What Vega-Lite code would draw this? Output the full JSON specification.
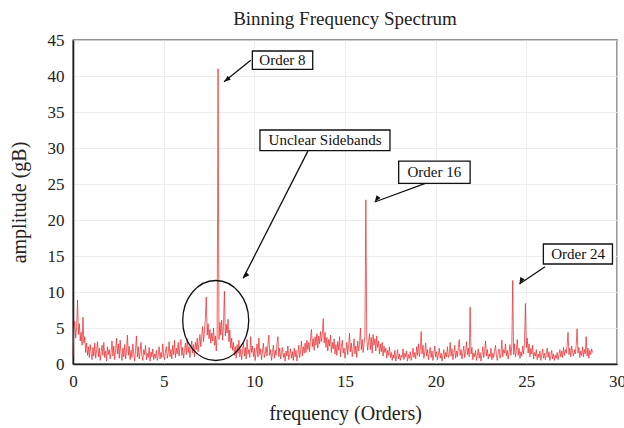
{
"$schema": "https://vega.github.io/schema/vega-lite/v6.json",
"width": 544, "height": 324,
"autosize": "none",
"padding": {"left": 73, "top": 40, "right": 7, "bottom": 64},
"background": "white",
"title": {"text": "Binning Frequency Spectrum", "font": "Liberation Serif", "fontSize": 19, "fontWeight": "normal", "color": "#222", "offset": 2},
"config": {
  "view": {"stroke": "#222", "strokeWidth": 1.3},
  "axis": {"labelFont": "Liberation Serif", "titleFont": "Liberation Serif", "labelFontSize": 17, "titleFontSize": 20, "titleFontWeight": "normal", "labelColor": "#222", "titleColor": "#222", "gridColor": "#e8e8e8", "gridWidth": 0.8, "domainColor": "#222", "domainWidth": 1.6, "ticks": false, "labelFlush": false, "labelOverlap": false},
  "axisX": {"tickCount": 6, "labelPadding": 9, "titlePadding": 14},
  "axisY": {"tickCount": 9, "labelPadding": 9, "titlePadding": 18}
},
"datasets": {
"spec": [
{"f":0.00,"a":1.2},{"f":0.05,"a":4.8},{"f":0.10,"a":5.9},{"f":0.15,"a":3.6},{"f":0.20,"a":5.2},{"f":0.25,"a":8.9},{"f":0.30,"a":4.1},{"f":0.35,"a":5.6},{"f":0.40,"a":3.2},{"f":0.45,"a":4.4},{"f":0.50,"a":2.6},{"f":0.55,"a":6.5},{"f":0.60,"a":2.9},{"f":0.65,"a":3.8},{"f":0.70,"a":1.6},{"f":0.75,"a":2.9},{"f":0.80,"a":1.2},{"f":0.85,"a":2.4},{"f":0.90,"a":0.9},{"f":0.95,"a":2.7},{"f":1.00,"a":1.5},
{"f":1.05,"a":0.6},{"f":1.10,"a":2.3},{"f":1.15,"a":1.1},{"f":1.20,"a":2.9},{"f":1.25,"a":0.8},{"f":1.30,"a":1.9},{"f":1.35,"a":3.1},{"f":1.40,"a":1.0},{"f":1.45,"a":2.2},{"f":1.50,"a":0.5},{"f":1.55,"a":1.7},{"f":1.60,"a":2.6},{"f":1.65,"a":1.2},{"f":1.70,"a":3.0},{"f":1.75,"a":0.9},{"f":1.80,"a":1.8},{"f":1.85,"a":0.4},{"f":1.90,"a":2.4},{"f":1.95,"a":1.3},{"f":2.00,"a":2.0},{"f":2.05,"a":0.7},{"f":2.10,"a":1.6},{"f":2.15,"a":3.2},{"f":2.20,"a":1.1},{"f":2.25,"a":2.5},{"f":2.30,"a":0.6},{"f":2.35,"a":1.9},{"f":2.40,"a":3.6},{"f":2.45,"a":1.4},{"f":2.50,"a":2.8},{"f":2.55,"a":0.8},{"f":2.60,"a":3.3},{"f":2.65,"a":1.5},{"f":2.70,"a":0.5},{"f":2.75,"a":2.2},{"f":2.80,"a":1.0},{"f":2.85,"a":2.7},{"f":2.90,"a":0.7},{"f":2.95,"a":1.8},{"f":3.00,"a":4.0},
{"f":3.05,"a":1.2},{"f":3.10,"a":2.5},{"f":3.15,"a":0.6},{"f":3.20,"a":1.9},{"f":3.25,"a":0.9},{"f":3.30,"a":2.8},{"f":3.35,"a":1.4},{"f":3.40,"a":0.4},{"f":3.45,"a":2.1},{"f":3.50,"a":3.9},{"f":3.55,"a":1.0},{"f":3.60,"a":2.4},{"f":3.65,"a":0.7},{"f":3.70,"a":1.6},{"f":3.75,"a":3.0},{"f":3.80,"a":1.1},{"f":3.85,"a":0.5},{"f":3.90,"a":2.0},{"f":3.95,"a":1.3},{"f":4.00,"a":2.6},{"f":4.05,"a":0.6},{"f":4.10,"a":1.5},{"f":4.15,"a":0.9},{"f":4.20,"a":2.3},{"f":4.25,"a":0.4},{"f":4.30,"a":1.7},{"f":4.35,"a":1.0},{"f":4.40,"a":2.1},{"f":4.45,"a":0.6},{"f":4.50,"a":1.4},{"f":4.55,"a":0.8},{"f":4.60,"a":1.9},{"f":4.65,"a":0.5},{"f":4.70,"a":1.2},{"f":4.75,"a":2.4},{"f":4.80,"a":0.7},{"f":4.85,"a":1.6},{"f":4.90,"a":0.9},{"f":4.95,"a":2.8},{"f":5.00,"a":1.1},
{"f":5.05,"a":0.6},{"f":5.10,"a":1.8},{"f":5.15,"a":2.4},{"f":5.20,"a":0.8},{"f":5.25,"a":1.5},{"f":5.30,"a":3.1},{"f":5.35,"a":1.0},{"f":5.40,"a":2.0},{"f":5.45,"a":0.7},{"f":5.50,"a":2.6},{"f":5.55,"a":1.3},{"f":5.60,"a":3.3},{"f":5.65,"a":0.9},{"f":5.70,"a":2.2},{"f":5.75,"a":1.4},{"f":5.80,"a":3.0},{"f":5.85,"a":1.1},{"f":5.90,"a":2.5},{"f":5.95,"a":3.4},{"f":6.00,"a":1.2},{"f":6.05,"a":2.3},{"f":6.10,"a":0.8},{"f":6.15,"a":1.9},{"f":6.20,"a":2.9},{"f":6.25,"a":1.3},{"f":6.30,"a":3.5},{"f":6.35,"a":1.6},{"f":6.40,"a":2.4},{"f":6.45,"a":0.9},{"f":6.50,"a":2.1},{"f":6.55,"a":3.2},{"f":6.60,"a":1.5},{"f":6.65,"a":2.7},{"f":6.70,"a":1.0},{"f":6.75,"a":3.0},{"f":6.80,"a":2.0},{"f":6.85,"a":3.6},{"f":6.90,"a":1.7},{"f":6.95,"a":2.9},{"f":7.00,"a":4.1},
{"f":7.05,"a":2.4},{"f":7.10,"a":3.8},{"f":7.15,"a":5.2},{"f":7.20,"a":3.1},{"f":7.25,"a":4.6},{"f":7.30,"a":6.3},{"f":7.35,"a":9.3},{"f":7.40,"a":4.0},{"f":7.45,"a":5.6},{"f":7.50,"a":3.5},{"f":7.55,"a":4.8},{"f":7.60,"a":2.9},{"f":7.65,"a":4.3},{"f":7.70,"a":3.2},{"f":7.75,"a":5.0},{"f":7.80,"a":2.6},{"f":7.85,"a":3.9},{"f":7.90,"a":1.8},{"f":7.95,"a":4.2},{"f":8.00,"a":41.0},{"f":8.05,"a":3.4},{"f":8.10,"a":5.8},{"f":8.15,"a":4.0},{"f":8.20,"a":6.1},{"f":8.25,"a":3.3},{"f":8.30,"a":5.2},{"f":8.35,"a":10.1},{"f":8.40,"a":3.9},{"f":8.45,"a":5.5},{"f":8.50,"a":4.3},{"f":8.55,"a":6.2},{"f":8.60,"a":3.1},{"f":8.65,"a":4.7},{"f":8.70,"a":2.2},{"f":8.75,"a":3.6},{"f":8.80,"a":1.9},
{"f":8.85,"a":3.0},{"f":8.90,"a":1.2},{"f":8.95,"a":2.4},{"f":9.00,"a":0.8},{"f":9.05,"a":2.7},{"f":9.10,"a":1.5},{"f":9.15,"a":3.3},{"f":9.20,"a":1.0},{"f":9.25,"a":2.1},{"f":9.30,"a":0.6},{"f":9.35,"a":1.8},{"f":9.40,"a":2.9},{"f":9.45,"a":1.1},{"f":9.50,"a":2.3},{"f":9.55,"a":0.7},{"f":9.60,"a":3.4},{"f":9.65,"a":1.4},{"f":9.70,"a":2.0},{"f":9.75,"a":0.9},{"f":9.80,"a":3.8},{"f":9.85,"a":1.6},{"f":9.90,"a":2.5},{"f":9.95,"a":1.0},{"f":10.00,"a":2.2},
{"f":10.05,"a":0.5},{"f":10.10,"a":1.7},{"f":10.15,"a":2.8},{"f":10.20,"a":1.0},{"f":10.25,"a":3.6},{"f":10.30,"a":1.3},{"f":10.35,"a":2.1},{"f":10.40,"a":0.6},{"f":10.45,"a":1.8},{"f":10.50,"a":2.9},{"f":10.55,"a":0.9},{"f":10.60,"a":1.5},{"f":10.65,"a":2.4},{"f":10.70,"a":1.1},{"f":10.75,"a":2.7},{"f":10.80,"a":4.0},{"f":10.85,"a":1.2},{"f":10.90,"a":2.0},{"f":10.95,"a":0.5},{"f":11.00,"a":1.6},{"f":11.05,"a":2.6},{"f":11.10,"a":0.8},{"f":11.15,"a":1.9},{"f":11.20,"a":1.2},{"f":11.25,"a":2.8},{"f":11.30,"a":3.8},{"f":11.35,"a":1.0},{"f":11.40,"a":2.2},{"f":11.45,"a":0.7},{"f":11.50,"a":1.6},{"f":11.55,"a":2.3},{"f":11.60,"a":0.9},{"f":11.65,"a":1.5},{"f":11.70,"a":0.4},{"f":11.75,"a":1.8},{"f":11.80,"a":1.1},{"f":11.85,"a":2.5},{"f":11.90,"a":0.6},{"f":11.95,"a":1.4},{"f":12.00,"a":2.1},{"f":12.05,"a":0.8},{"f":12.10,"a":1.7},{"f":12.15,"a":0.5},{"f":12.20,"a":2.2},{"f":12.25,"a":1.0},{"f":12.30,"a":1.9},{"f":12.35,"a":0.4},{"f":12.40,"a":1.3},{"f":12.45,"a":2.6},{"f":12.50,"a":0.9},{"f":12.55,"a":1.8},{"f":12.60,"a":3.2},{"f":12.65,"a":1.1},{"f":12.70,"a":2.4},{"f":12.75,"a":1.5},{"f":12.80,"a":2.9},
{"f":12.85,"a":1.6},{"f":12.90,"a":3.3},{"f":12.95,"a":2.0},{"f":13.00,"a":3.0},{"f":13.05,"a":1.7},{"f":13.10,"a":3.6},{"f":13.15,"a":4.8},{"f":13.20,"a":2.4},{"f":13.25,"a":3.5},{"f":13.30,"a":1.9},{"f":13.35,"a":3.8},{"f":13.40,"a":2.6},{"f":13.45,"a":4.2},{"f":13.50,"a":2.2},{"f":13.55,"a":3.9},{"f":13.60,"a":2.8},{"f":13.65,"a":4.5},{"f":13.70,"a":3.1},{"f":13.75,"a":4.1},{"f":13.80,"a":6.3},{"f":13.85,"a":2.9},{"f":13.90,"a":4.4},{"f":13.95,"a":2.3},{"f":14.00,"a":3.7},{"f":14.05,"a":1.8},{"f":14.10,"a":3.4},{"f":14.15,"a":2.5},{"f":14.20,"a":4.0},{"f":14.25,"a":1.6},{"f":14.30,"a":3.0},{"f":14.35,"a":2.1},{"f":14.40,"a":3.5},{"f":14.45,"a":1.4},{"f":14.50,"a":2.7},
{"f":14.55,"a":1.2},{"f":14.60,"a":3.1},{"f":14.65,"a":1.9},{"f":14.70,"a":3.8},{"f":14.75,"a":1.0},{"f":14.80,"a":2.4},{"f":14.85,"a":3.3},{"f":14.90,"a":1.5},{"f":14.95,"a":2.2},{"f":15.00,"a":0.8},{"f":15.05,"a":1.8},{"f":15.10,"a":3.0},{"f":15.15,"a":1.3},{"f":15.20,"a":2.6},{"f":15.25,"a":4.3},{"f":15.30,"a":1.7},{"f":15.35,"a":2.9},{"f":15.40,"a":1.0},{"f":15.45,"a":2.1},{"f":15.50,"a":3.5},{"f":15.55,"a":1.4},{"f":15.60,"a":2.5},{"f":15.65,"a":0.9},{"f":15.70,"a":3.2},{"f":15.75,"a":1.8},{"f":15.80,"a":2.7},{"f":15.85,"a":5.0},{"f":15.90,"a":2.0},{"f":15.95,"a":3.4},{"f":16.00,"a":1.6},{"f":16.05,"a":2.8},{"f":16.10,"a":3.9},{"f":16.15,"a":22.8},
{"f":16.20,"a":3.6},{"f":16.25,"a":1.9},{"f":16.30,"a":3.1},{"f":16.35,"a":4.2},{"f":16.40,"a":2.0},{"f":16.45,"a":3.7},{"f":16.50,"a":1.5},{"f":16.55,"a":4.1},{"f":16.60,"a":2.6},{"f":16.65,"a":3.5},{"f":16.70,"a":1.8},{"f":16.75,"a":3.9},{"f":16.80,"a":2.3},{"f":16.85,"a":3.2},{"f":16.90,"a":1.4},{"f":16.95,"a":2.8},{"f":17.00,"a":1.7},{"f":17.05,"a":3.0},{"f":17.10,"a":1.1},{"f":17.15,"a":2.5},{"f":17.20,"a":1.6},{"f":17.25,"a":2.2},{"f":17.30,"a":0.8},{"f":17.35,"a":1.9},{"f":17.40,"a":1.2},{"f":17.45,"a":2.4},{"f":17.50,"a":0.9},
{"f":17.55,"a":1.6},{"f":17.60,"a":0.5},{"f":17.65,"a":1.3},{"f":17.70,"a":0.8},{"f":17.75,"a":1.9},{"f":17.80,"a":0.4},{"f":17.85,"a":1.1},{"f":17.90,"a":2.0},{"f":17.95,"a":0.7},{"f":18.00,"a":1.4},{"f":18.05,"a":0.5},{"f":18.10,"a":1.2},{"f":18.15,"a":0.9},{"f":18.20,"a":2.1},{"f":18.25,"a":0.6},{"f":18.30,"a":1.5},{"f":18.35,"a":1.0},{"f":18.40,"a":1.8},{"f":18.45,"a":0.4},{"f":18.50,"a":1.3},{"f":18.55,"a":0.8},{"f":18.60,"a":1.7},{"f":18.65,"a":0.5},{"f":18.70,"a":1.1},{"f":18.75,"a":2.2},{"f":18.80,"a":0.9},{"f":18.85,"a":1.6},{"f":18.90,"a":0.7},{"f":18.95,"a":2.4},{"f":19.00,"a":1.2},{"f":19.05,"a":2.8},{"f":19.10,"a":1.0},{"f":19.15,"a":1.9},{"f":19.20,"a":4.5},{"f":19.25,"a":1.4},{"f":19.30,"a":2.6},{"f":19.35,"a":0.8},{"f":19.40,"a":1.7},{"f":19.45,"a":2.9},{"f":19.50,"a":1.1},{"f":19.55,"a":2.0},{"f":19.60,"a":0.6},{"f":19.65,"a":1.5},{"f":19.70,"a":2.3},{"f":19.75,"a":0.9},{"f":19.80,"a":1.8},{"f":19.85,"a":0.5},{"f":19.90,"a":1.4},{"f":19.95,"a":2.5},{"f":20.00,"a":1.0},{"f":20.05,"a":1.7},{"f":20.10,"a":0.6},{"f":20.15,"a":1.3},{"f":20.20,"a":2.2},{"f":20.25,"a":0.8},{"f":20.30,"a":1.5},{"f":20.35,"a":0.4},{"f":20.40,"a":1.2},{"f":20.45,"a":2.0},{"f":20.50,"a":0.7},{"f":20.55,"a":1.6},{"f":20.60,"a":1.0},{"f":20.65,"a":2.4},{"f":20.70,"a":0.9},{"f":20.75,"a":1.4},{"f":20.80,"a":3.0},{"f":20.85,"a":1.1},{"f":20.90,"a":2.1},{"f":20.95,"a":0.6},{"f":21.00,"a":1.5},{"f":21.05,"a":2.6},{"f":21.10,"a":0.8},{"f":21.15,"a":1.8},{"f":21.20,"a":1.0},{"f":21.25,"a":2.3},{"f":21.30,"a":3.4},{"f":21.35,"a":1.2},{"f":21.40,"a":2.0},{"f":21.45,"a":0.7},{"f":21.50,"a":1.6},{"f":21.55,"a":2.5},{"f":21.60,"a":0.9},{"f":21.65,"a":1.7},{"f":21.70,"a":3.1},{"f":21.75,"a":1.3},{"f":21.80,"a":2.2},{"f":21.85,"a":1.0},{"f":21.90,"a":7.9},
{"f":21.95,"a":1.4},{"f":22.00,"a":2.3},{"f":22.05,"a":0.6},{"f":22.10,"a":1.5},{"f":22.15,"a":1.0},{"f":22.20,"a":1.9},{"f":22.25,"a":0.5},{"f":22.30,"a":1.2},{"f":22.35,"a":2.1},{"f":22.40,"a":0.8},{"f":22.45,"a":1.6},{"f":22.50,"a":0.4},{"f":22.55,"a":1.3},{"f":22.60,"a":2.4},{"f":22.65,"a":0.9},{"f":22.70,"a":1.7},{"f":22.75,"a":3.2},{"f":22.80,"a":1.1},{"f":22.85,"a":2.0},{"f":22.90,"a":0.7},{"f":22.95,"a":1.4},{"f":23.00,"a":1.0},{"f":23.05,"a":2.2},{"f":23.10,"a":0.6},{"f":23.15,"a":1.5},{"f":23.20,"a":0.9},{"f":23.25,"a":1.8},{"f":23.30,"a":2.6},{"f":23.35,"a":1.2},{"f":23.40,"a":0.5},{"f":23.45,"a":1.6},{"f":23.50,"a":2.1},{"f":23.55,"a":0.8},{"f":23.60,"a":1.3},{"f":23.65,"a":3.3},{"f":23.70,"a":1.0},{"f":23.75,"a":2.0},{"f":23.80,"a":1.5},{"f":23.85,"a":2.8},{"f":23.90,"a":1.1},{"f":23.95,"a":1.9},{"f":24.00,"a":0.7},{"f":24.05,"a":1.6},{"f":24.10,"a":2.7},{"f":24.15,"a":1.2},{"f":24.20,"a":2.4},{"f":24.25,"a":11.6},
{"f":24.30,"a":1.3},{"f":24.35,"a":2.8},{"f":24.40,"a":1.0},{"f":24.45,"a":1.9},{"f":24.50,"a":3.4},{"f":24.55,"a":1.2},{"f":24.60,"a":2.2},{"f":24.65,"a":0.8},{"f":24.70,"a":1.7},{"f":24.75,"a":1.1},{"f":24.80,"a":2.5},{"f":24.85,"a":1.4},{"f":24.90,"a":3.0},{"f":24.95,"a":8.4},{"f":25.00,"a":2.3},
{"f":25.05,"a":3.6},{"f":25.10,"a":1.5},{"f":25.15,"a":2.8},{"f":25.20,"a":1.0},{"f":25.25,"a":2.2},{"f":25.30,"a":1.4},{"f":25.35,"a":2.6},{"f":25.40,"a":0.7},{"f":25.45,"a":1.6},{"f":25.50,"a":1.1},{"f":25.55,"a":2.0},{"f":25.60,"a":0.6},{"f":25.65,"a":1.4},{"f":25.70,"a":0.9},{"f":25.75,"a":1.8},{"f":25.80,"a":0.5},{"f":25.85,"a":1.2},{"f":25.90,"a":2.1},{"f":25.95,"a":0.8},{"f":26.00,"a":1.5},{"f":26.05,"a":0.6},{"f":26.10,"a":1.3},{"f":26.15,"a":2.2},{"f":26.20,"a":0.9},{"f":26.25,"a":1.7},{"f":26.30,"a":0.5},{"f":26.35,"a":1.1},{"f":26.40,"a":1.9},{"f":26.45,"a":0.7},{"f":26.50,"a":1.4},{"f":26.55,"a":0.5},{"f":26.60,"a":1.2},{"f":26.65,"a":0.8},{"f":26.70,"a":1.6},{"f":26.75,"a":0.6},{"f":26.80,"a":1.3},{"f":26.85,"a":2.0},{"f":26.90,"a":1.0},{"f":26.95,"a":1.8},{"f":27.00,"a":0.9},{"f":27.05,"a":2.3},{"f":27.10,"a":1.2},{"f":27.15,"a":2.0},{"f":27.20,"a":1.5},{"f":27.25,"a":2.6},
{"f":27.30,"a":4.4},{"f":27.35,"a":1.3},{"f":27.40,"a":2.2},{"f":27.45,"a":1.0},{"f":27.50,"a":2.5},{"f":27.55,"a":1.6},{"f":27.60,"a":1.1},{"f":27.65,"a":2.0},{"f":27.70,"a":1.4},{"f":27.75,"a":2.6},{"f":27.80,"a":4.9},{"f":27.85,"a":1.5},{"f":27.90,"a":2.3},{"f":27.95,"a":0.9},{"f":28.00,"a":1.8},{"f":28.05,"a":1.2},{"f":28.10,"a":2.4},{"f":28.15,"a":1.0},{"f":28.20,"a":2.0},{"f":28.25,"a":1.4},{"f":28.30,"a":3.8},{"f":28.35,"a":1.1},{"f":28.40,"a":2.2},{"f":28.45,"a":0.8},{"f":28.50,"a":1.9},{"f":28.55,"a":1.3},{"f":28.60,"a":2.1},{"f":28.65,"a":1.6}
],
"boxes": [
{"label":"Order 8","x1":9.89,"x2":13.22,"y1":40.93,"y2":43.47,"tx":11.55,"ty":42.2},
{"label":"Unclear Sidebands","x1":10.31,"x2":17.48,"y1":29.63,"y2":32.5,"tx":13.9,"ty":31.07},
{"label":"Order 16","x1":17.96,"x2":21.9,"y1":25.1,"y2":28.19,"tx":19.93,"ty":26.64},
{"label":"Order 24","x1":25.94,"x2":29.75,"y1":13.89,"y2":16.67,"tx":27.85,"ty":15.28}
],
"arrows": [
{"label":"Order 8","xs":9.8,"ys":42.2,"xe":8.33,"ye":39.2},
{"label":"Unclear Sidebands","xs":12.96,"ys":29.6,"xe":9.38,"ye":11.9},
{"label":"Order 16","xs":19.43,"ys":25.1,"xe":16.64,"ye":22.5},
{"label":"Order 24","xs":26.03,"ys":13.5,"xe":24.62,"ye":11.1}
],
"circle": [{"cx":7.87,"cy":6.04}]
},
"layer": [
{
 "data": {"name": "spec"},
 "mark": {"type": "line", "stroke": "#e8282b", "strokeWidth": 0.8, "opacity": 0.9},
 "encoding": {
  "x": {"field": "f", "type": "quantitative", "title": "frequency (Orders)", "scale": {"domain": [0, 30], "nice": false}},
  "y": {"field": "a", "type": "quantitative", "title": "amplitude (gB)", "scale": {"domain": [0, 45], "nice": false}}
 }
},
{
 "data": {"name": "circle"},
 "mark": {"type": "point", "shape": "M-0.825,0 C-0.825,-0.5523 -0.4556,-1 0,-1 C0.4556,-1 0.825,-0.5523 0.825,0 C0.825,0.5523 0.4556,1 0,1 C-0.4556,1 -0.825,0.5523 -0.825,0 Z", "size": 6400, "filled": false, "stroke": "#111", "strokeWidth": 1.3, "opacity": 1},
 "encoding": {
  "x": {"field": "cx", "type": "quantitative", "title": "frequency (Orders)"},
  "y": {"field": "cy", "type": "quantitative", "title": "amplitude (gB)"}
 }
},
{
 "data": {"name": "arrows"},
 "mark": {"type": "rule", "stroke": "#111", "strokeWidth": 1.3},
 "encoding": {
  "x": {"field": "xs", "type": "quantitative", "title": "frequency (Orders)"},
  "y": {"field": "ys", "type": "quantitative", "title": "amplitude (gB)"},
  "x2": {"field": "xe"},
  "y2": {"field": "ye"}
 }
},
{
 "data": {"name": "arrows"},
 "mark": {"type": "point", "shape": "M0,0 L-0.45,1.2 L0.45,1.2 Z", "size": 120, "filled": true, "fill": "#111", "opacity": 1, "strokeWidth": 0},
 "encoding": {
  "x": {"field": "xe", "type": "quantitative", "title": "frequency (Orders)"},
  "y": {"field": "ye", "type": "quantitative", "title": "amplitude (gB)"},
  "angle": {"field": "label", "type": "nominal", "scale": {"domain": ["Order 8", "Unclear Sidebands", "Order 16", "Order 24"], "range": [232, 207, 250, 236]}, "legend": null}
 }
},
{
 "data": {"name": "boxes"},
 "mark": {"type": "rect", "fill": "white", "stroke": "#111", "strokeWidth": 1.3},
 "encoding": {
  "x": {"field": "x1", "type": "quantitative", "title": "frequency (Orders)"},
  "x2": {"field": "x2"},
  "y": {"field": "y1", "type": "quantitative", "title": "amplitude (gB)"},
  "y2": {"field": "y2"}
 }
},
{
 "data": {"name": "boxes"},
 "mark": {"type": "text", "font": "Liberation Serif", "fontSize": 15, "color": "#111", "align": "center", "baseline": "middle"},
 "encoding": {
  "x": {"field": "tx", "type": "quantitative", "title": "frequency (Orders)"},
  "y": {"field": "ty", "type": "quantitative", "title": "amplitude (gB)"},
  "text": {"field": "label"}
 }
}
]
}
